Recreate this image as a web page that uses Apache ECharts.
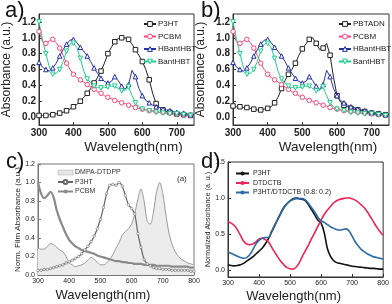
<!DOCTYPE html>
<html><head><meta charset="utf-8">
<script src="https://cdn.jsdelivr.net/npm/echarts@6/dist/echarts.min.js"></script>
<style>html,body{margin:0;padding:0;background:#fff}#c{width:392px;height:304px}</style>
</head><body><div id="c"></div>
<script>
// ---------- panels a / b (300-750 nm, 10 nm step) ----------
const wlAB = [300,310,320,330,340,350,360,370,380,390,400,410,420,430,440,450,460,470,480,490,500,510,520,530,540,550,560,570,580,590,600,610,620,630,640,650,660,670,680,690,700,710,720,730,740,750];
const p3htA = [0.02,0.02,0.02,0.03,0.03,0.04,0.05,0.06,0.08,0.10,0.13,0.16,0.20,0.25,0.30,0.36,0.43,0.50,0.58,0.68,0.80,0.88,0.95,0.99,1.00,1.00,0.98,0.92,0.85,0.78,0.70,0.60,0.47,0.30,0.17,0.12,0.09,0.07,0.06,0.05,0.04,0.04,0.03,0.03,0.02,0.02];
const pbtadnB = [0.14,0.13,0.13,0.12,0.12,0.11,0.10,0.09,0.09,0.10,0.11,0.13,0.18,0.25,0.36,0.46,0.54,0.60,0.68,0.78,0.86,0.92,0.98,1.00,0.93,0.85,0.87,0.93,0.78,0.50,0.27,0.19,0.15,0.13,0.11,0.10,0.09,0.08,0.07,0.06,0.05,0.05,0.04,0.04,0.03,0.03];
const pcbmAB = [1.08,0.95,0.93,0.96,0.98,0.94,0.87,0.78,0.68,0.60,0.54,0.50,0.47,0.44,0.41,0.38,0.35,0.32,0.30,0.27,0.25,0.23,0.21,0.20,0.18,0.17,0.15,0.14,0.12,0.11,0.10,0.09,0.08,0.08,0.07,0.06,0.06,0.05,0.05,0.04,0.04,0.03,0.03,0.03,0.02,0.02];
const hbantAB = [0.69,0.63,0.60,0.58,0.62,0.68,0.77,0.85,0.92,0.97,0.98,0.94,0.88,0.83,0.77,0.70,0.62,0.55,0.49,0.45,0.43,0.45,0.51,0.46,0.39,0.35,0.41,0.59,0.51,0.36,0.27,0.21,0.18,0.15,0.13,0.12,0.10,0.09,0.08,0.07,0.06,0.05,0.05,0.04,0.03,0.03];
const bantAB = [1.20,0.98,0.80,0.63,0.54,0.55,0.60,0.70,0.83,0.92,0.93,0.88,0.74,0.58,0.48,0.43,0.39,0.37,0.37,0.37,0.38,0.39,0.39,0.36,0.33,0.34,0.38,0.27,0.18,0.13,0.10,0.09,0.08,0.07,0.06,0.06,0.05,0.05,0.04,0.04,0.04,0.03,0.03,0.03,0.02,0.02];
const xTicksAB = [300,400,500,600,700];
const yTicksAB = [0,0.2,0.4,0.6,0.8,1.0,1.2];

// ---------- panels c / d (300-800 nm, 10 nm step) ----------
const wlCD = [300,310,320,330,340,350,360,370,380,390,400,410,420,430,440,450,460,470,480,490,500,510,520,530,540,550,560,570,580,590,600,610,620,630,640,650,660,670,680,690,700,710,720,730,740,750,760,770,780,790,800];
const dmpaC = [0.29,0.28,0.28,0.31,0.34,0.33,0.30,0.27,0.25,0.20,0.13,0.11,0.09,0.10,0.11,0.13,0.16,0.19,0.17,0.14,0.11,0.11,0.13,0.17,0.22,0.29,0.35,0.43,0.47,0.50,0.55,0.66,0.82,0.93,0.80,0.58,0.55,0.68,0.90,1.00,0.88,0.65,0.45,0.33,0.25,0.20,0.17,0.15,0.13,0.12,0.11];
const p3htC = [0.05,0.05,0.06,0.06,0.07,0.08,0.09,0.10,0.11,0.13,0.14,0.16,0.18,0.20,0.23,0.27,0.31,0.36,0.42,0.50,0.60,0.73,0.88,0.97,0.98,0.97,1.00,0.96,0.86,0.76,0.72,0.66,0.45,0.30,0.17,0.12,0.10,0.08,0.07,0.07,0.06,0.06,0.06,0.05,0.05,0.05,0.05,0.05,0.05,0.04,0.04];
const pcbmC = [1.00,0.88,0.83,0.86,0.90,0.84,0.70,0.60,0.52,0.44,0.38,0.34,0.31,0.29,0.27,0.26,0.25,0.24,0.23,0.21,0.20,0.19,0.18,0.17,0.16,0.15,0.15,0.14,0.14,0.13,0.13,0.12,0.12,0.12,0.11,0.11,0.11,0.11,0.10,0.10,0.10,0.10,0.10,0.09,0.09,0.09,0.09,0.09,0.09,0.08,0.08];
const p3htD = [0.07,0.06,0.055,0.06,0.07,0.09,0.12,0.15,0.18,0.22,0.26,0.30,0.36,0.43,0.52,0.61,0.70,0.79,0.87,0.92,0.96,0.99,1.00,0.99,0.98,0.96,0.90,0.83,0.76,0.69,0.65,0.52,0.30,0.19,0.13,0.10,0.09,0.08,0.07,0.06,0.05,0.045,0.04,0.035,0.03,0.025,0.02,0.02,0.015,0.01,0.01];
const dtdctbD = [0.67,0.65,0.62,0.56,0.48,0.40,0.36,0.35,0.36,0.39,0.43,0.44,0.42,0.39,0.32,0.25,0.18,0.12,0.07,0.03,0.015,0.01,0.04,0.10,0.19,0.27,0.35,0.44,0.52,0.61,0.69,0.77,0.83,0.88,0.93,0.96,0.98,0.99,1.00,1.00,0.99,0.97,0.94,0.90,0.86,0.80,0.73,0.66,0.59,0.53,0.48];
const blendD = [0.25,0.23,0.21,0.19,0.17,0.16,0.17,0.21,0.28,0.36,0.41,0.44,0.45,0.45,0.53,0.62,0.70,0.78,0.86,0.92,0.96,0.98,0.99,0.99,0.99,0.97,0.92,0.86,0.80,0.73,0.68,0.66,0.63,0.60,0.58,0.56,0.55,0.56,0.57,0.54,0.47,0.39,0.33,0.28,0.25,0.22,0.20,0.18,0.17,0.16,0.15];
const xTicksCD = [300,400,500,600,700,800];
const yTicksC = [0,0.2,0.4,0.6,0.8,1.0,1.2];
const yTicksD = [0,0.5,1.0,1.5];

const chart = echarts.init(document.getElementById('c'), null, {renderer:'canvas'});
const FF = 'Liberation Sans, Arial, sans-serif';
const C_BLACK = '#222222', C_RED = '#ff4477', C_BLUE = '#2630a8', C_GREEN = '#1fd08c';

function marked(xs, ys, step) {
  return xs.map((x, i) => {
    const d = {value: [x, ys[i]]};
    if (i % step !== 0) d.symbol = 'none';
    return d;
  });
}
function pairs(xs, ys) { return xs.map((x, i) => [x, ys[i]]); }

function abSeries(gi, name, ys, color, symbol, rot) {
  return {
    type: 'line', name: name, xAxisIndex: gi, yAxisIndex: gi,
    data: marked(wlAB, ys, 2), symbol: symbol, symbolSize: 4.5, symbolRotate: rot || 0,
    showAllSymbol: true, lineStyle: {color: color, width: 1},
    itemStyle: {color: '#ffffff', borderColor: color, borderWidth: 1},
    animation: false
  };
}
function legItem(name, color) {
  return {name: name, itemStyle: {color: '#ffffff', borderColor: color, borderWidth: 1}};
}

const gridsPx = [
  {left: 38, top: 14, width: 156, height: 111},
  {left: 233, top: 14, width: 156, height: 111},
  {left: 38, top: 164, width: 156, height: 111},
  {left: 228, top: 162, width: 161, height: 115}
];

function xAx(gi, min, max, ticks, fs, fw, col, nameFs, nameGap, namePad) {
  return {
    type: 'value', gridIndex: gi, min: min, max: max,
    name: 'Wavelength(nm)', nameLocation: 'middle', nameGap: nameGap,
    nameTextStyle: {fontFamily: FF, fontSize: nameFs, color: '#222', padding: namePad},
    axisLine: {show: true, onZero: false, lineStyle: {color: col}},
    axisTick: {show: true, inside: true, length: 3, customValues: ticks, lineStyle: {color: col}},
    axisLabel: {customValues: ticks, fontFamily: FF, fontSize: fs, fontWeight: fw, color: '#222', margin: 3},
    splitLine: {show: false}
  };
}
function yAx(gi, min, max, ticks, fs, fw, col, name, nameFs, nameGap) {
  return {
    type: 'value', gridIndex: gi, min: min, max: max,
    name: name, nameLocation: 'middle', nameGap: nameGap, nameRotate: 90,
    nameTextStyle: {fontFamily: FF, fontSize: nameFs, color: '#222'},
    axisLine: {show: true, onZero: false, lineStyle: {color: col}},
    axisTick: {show: true, inside: true, length: 3, customValues: ticks, lineStyle: {color: col}},
    axisLabel: {customValues: ticks, fontFamily: FF, fontSize: fs, fontWeight: fw, color: '#222', margin: 3,
      formatter: v => v.toFixed(1)},
    splitLine: {show: false}
  };
}

const option = {
  backgroundColor: '#fff',
  animation: false,
  grid: gridsPx.map((g, i) => Object.assign({show: true, borderColor: i === 2 ? '#777' : '#333', borderWidth: 1, backgroundColor: 'transparent'}, g)),
  title: [
    {text: 'a)', left: 0, top: -5, textStyle: {fontFamily: FF, fontSize: 22, fontWeight: 'normal', color: '#111'}},
    {text: 'b)', left: 196, top: -5, textStyle: {fontFamily: FF, fontSize: 22, fontWeight: 'normal', color: '#111'}},
    {text: 'c)', left: 1, top: 146, textStyle: {fontFamily: FF, fontSize: 22, fontWeight: 'normal', color: '#111'}},
    {text: 'd)', left: 196, top: 146, textStyle: {fontFamily: FF, fontSize: 22, fontWeight: 'normal', color: '#111'}},
    {text: '(a)', left: 172, top: 170, textStyle: {fontFamily: FF, fontSize: 8, fontWeight: 'normal', color: '#333'}}
  ],
  legend: [
    {data: [legItem('P3HT', C_BLACK), legItem('PCBM', C_RED), legItem('HBantHBT', C_BLUE), legItem('BantHBT', C_GREEN)],
     orient: 'vertical', left: 138, top: 15,
     itemWidth: 12, itemHeight: 6, itemGap: 4.5, textStyle: {fontFamily: FF, fontSize: 8, color: '#222', padding: [0,0,0,-3]}},
    {data: [legItem('PBTADN', C_BLACK), legItem('PCBM ', C_RED), legItem('HBantHBT ', C_BLUE), legItem('BantHBT ', C_GREEN)],
     orient: 'vertical', left: 333, top: 15,
     itemWidth: 12, itemHeight: 6, itemGap: 4.5, textStyle: {fontFamily: FF, fontSize: 8, color: '#222', padding: [0,0,0,-3]}},
    {data: [{name: 'DMPA-DTDPP', icon: 'rect', itemStyle: {color: '#e6e6e6', borderColor: '#aaa', borderWidth: 0.5}}, {name: 'P3HT  '}, {name: 'PCBM  '}],
     orient: 'vertical', left: 52, top: 164, itemWidth: 15, itemHeight: 5, itemGap: 2.5,
     textStyle: {fontFamily: FF, fontSize: 7, color: '#333', padding: [0,0,0,-3]}},
    {data: ['P3HT   ', 'DTDCTB', 'P3HT/DTDCTB (0.8: 0.2)'].map(n => ({name: n})), orient: 'vertical', left: 230, top: 165,
     itemWidth: 13, itemHeight: 5, itemGap: 2.5, textStyle: {fontFamily: FF, fontSize: 7, color: '#222', padding: [0,0,0,-1]}}
  ],
  xAxis: [
    xAx(0, 300, 750, xTicksAB, 10, 'bold', '#333', 13.5, 15, [0,0,0,34]),
    xAx(1, 300, 750, xTicksAB, 10, 'bold', '#333', 13.5, 15, [0,0,0,34]),
    xAx(2, 300, 800, xTicksCD, 7, 'normal', '#777', 13, 14, [0,26,0,0]),
    xAx(3, 300, 800, xTicksCD, 7, 'normal', '#333', 13, 13, [0,24,0,0])
  ],
  yAxis: [
    yAx(0, -0.1, 1.3, yTicksAB, 10, 'bold', '#333', 'Absorbance (a.u.)', 12, 26),
    yAx(1, -0.1, 1.3, yTicksAB, 10, 'bold', '#333', 'Absorbance (a.u.)', 12, 26),
    yAx(2, 0, 1.2, yTicksC, 7, 'normal', '#777', 'Norm. Film Absorbance (a.u.)', 8, 16),
    yAx(3, -0.1, 1.5, yTicksD, 7, 'normal', '#333', 'Normalized Absorbance (a. u.)', 7, 15)
  ],
  series: [
    abSeries(0, 'P3HT', p3htA, C_BLACK, 'rect'),
    abSeries(0, 'PCBM', pcbmAB, C_RED, 'circle'),
    abSeries(0, 'HBantHBT', hbantAB, C_BLUE, 'triangle'),
    abSeries(0, 'BantHBT', bantAB, C_GREEN, 'triangle', 180),
    abSeries(1, 'PBTADN', pbtadnB, C_BLACK, 'rect'),
    abSeries(1, 'PCBM ', pcbmAB, C_RED, 'circle'),
    abSeries(1, 'HBantHBT ', hbantAB, C_BLUE, 'triangle'),
    abSeries(1, 'BantHBT ', bantAB, C_GREEN, 'triangle', 180),
    {type: 'line', name: 'DMPA-DTDPP', xAxisIndex: 2, yAxisIndex: 2, data: pairs(wlCD, dmpaC), smooth: 0.3, showSymbol: false,
     symbol: 'none', lineStyle: {color: '#999', width: 1}, itemStyle: {color: '#999'}, areaStyle: {color: '#ececec', opacity: 1}},
    {type: 'line', name: 'PCBM  ', xAxisIndex: 2, yAxisIndex: 2, data: pairs(wlCD, pcbmC), smooth: 0.3, showSymbol: false,
     symbol: 'circle', symbolSize: 3, lineStyle: {color: '#8a8a8a', width: 2.2}, itemStyle: {color: '#8a8a8a'}},
    {type: 'line', name: 'P3HT  ', xAxisIndex: 2, yAxisIndex: 2, data: pairs(wlCD, p3htC), smooth: 0.3, showAllSymbol: true,
     symbol: 'circle', symbolSize: 2.5, lineStyle: {color: '#666', width: 1.2}, itemStyle: {color: '#ffffff', borderColor: '#666', borderWidth: 0.6}},
    {type: 'line', name: 'P3HT   ', xAxisIndex: 3, yAxisIndex: 3, data: pairs(wlCD, p3htD), smooth: 0.3, showSymbol: false,
     symbol: 'none', lineStyle: {color: '#111', width: 1.6}, itemStyle: {color: '#111'}},
    {type: 'line', name: 'DTDCTB', xAxisIndex: 3, yAxisIndex: 3, data: pairs(wlCD, dtdctbD), smooth: 0.3, showSymbol: false,
     symbol: 'none', lineStyle: {color: '#ee2457', width: 1.6}, itemStyle: {color: '#ee2457'}},
    {type: 'line', name: 'P3HT/DTDCTB (0.8: 0.2)', xAxisIndex: 3, yAxisIndex: 3, data: pairs(wlCD, blendD), smooth: 0.3, showSymbol: false,
     symbol: 'none', lineStyle: {color: '#2a6aa8', width: 1.6}, itemStyle: {color: '#2a6aa8'}}
  ]
};
chart.setOption(option);
</script></body></html>
